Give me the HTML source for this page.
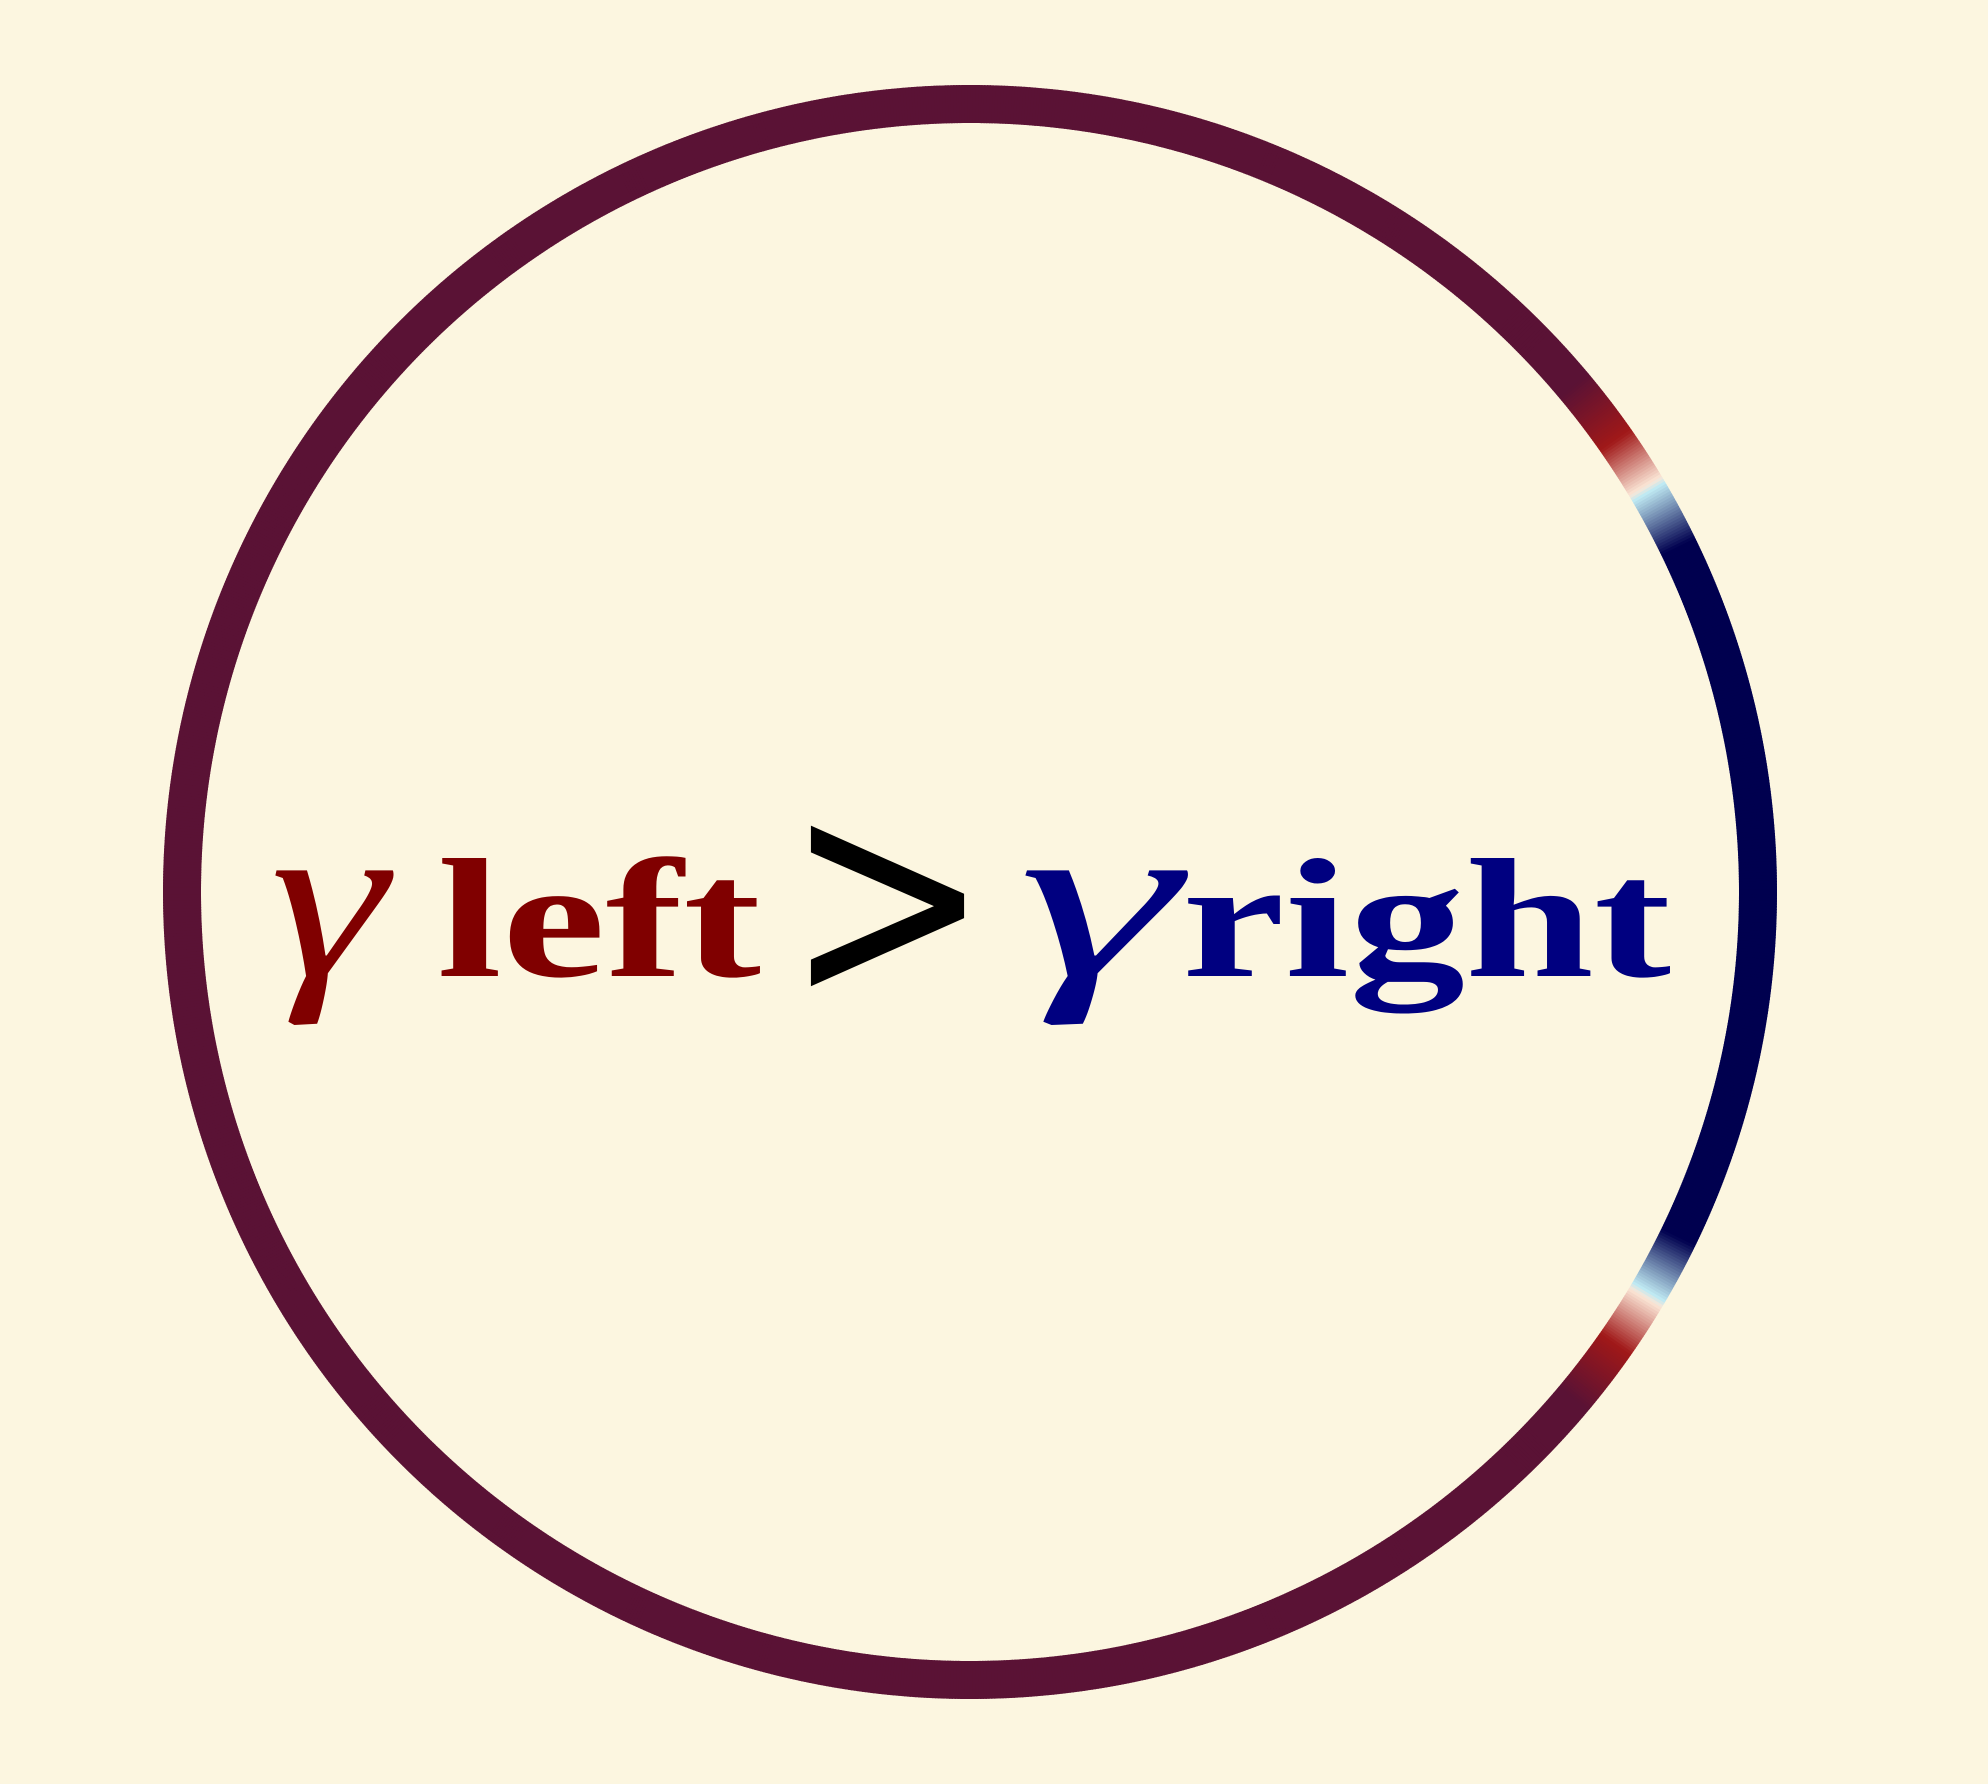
<!DOCTYPE html>
<html><head><meta charset="utf-8"><style>
html,body{margin:0;padding:0;background:#fcf6e0;}
svg{display:block}
</style></head><body>
<svg id="chart" width="1988" height="1784" viewBox="0 0 1988 1784" xmlns="http://www.w3.org/2000/svg">
<rect width="1988" height="1784" fill="#fcf6e0"/>
<g id="ring"></g>
<g font-family="'Liberation Serif', 'DejaVu Serif', serif">
<text x="270" y="976" fill="#800000" font-style="italic" font-size="230" textLength="117" lengthAdjust="spacingAndGlyphs">γ</text>
<text x="437" y="976" fill="#800000" font-weight="bold" font-size="170" textLength="324" lengthAdjust="spacingAndGlyphs">left</text>
<text x="785" y="1000" fill="#000" font-family="'DejaVu Sans', sans-serif" font-size="300" textLength="205" lengthAdjust="spacingAndGlyphs">&gt;</text>
<text x="1018" y="976" fill="#000080" font-style="italic" font-size="230" textLength="161" lengthAdjust="spacingAndGlyphs">γ</text>
<text x="1182" y="976" fill="#000080" font-weight="bold" font-size="170" textLength="489" lengthAdjust="spacingAndGlyphs">right</text>
</g>
</svg>
<script>
const stopAngles = [-180, -40, -35, -31, -30.5, -26, 26, 30.5, 31, 35, 40, 180];
const stopColors = ['#5a1235','#5a1235','#a01818','#fbe6d6','#bfe9f2','#00004f','#00004f','#bfe9f2','#fbe6d6','#a01818','#5a1235','#5a1235'];
const cx = 970, cy = 892, r = 788, sw = 38;
function hex(c){return [1,3,5].map(i=>parseInt(c.substr(i,2),16));}
function colorAt(a){
  for(let i=0;i<stopAngles.length-1;i++){
    if(a>=stopAngles[i]&&a<=stopAngles[i+1]){
      const t=(a-stopAngles[i])/(stopAngles[i+1]-stopAngles[i]||1);
      const c1=hex(stopColors[i]),c2=hex(stopColors[i+1]);
      return 'rgb('+c1.map((v,k)=>Math.round(v+(c2[k]-v)*t)).join(',')+')';
    }
  }
  return stopColors[0];
}
const g=document.getElementById('ring');
const step=0.2;
for(let a=-180;a<180;a+=step){
  const a1=a*Math.PI/180,a2=(a+step+0.1)*Math.PI/180;
  const p=document.createElementNS('http://www.w3.org/2000/svg','path');
  p.setAttribute('d','M'+(cx+r*Math.cos(a1))+' '+(cy+r*Math.sin(a1))+' A'+r+' '+r+' 0 0 1 '+(cx+r*Math.cos(a2))+' '+(cy+r*Math.sin(a2)));
  p.setAttribute('stroke',colorAt(a+step/2));
  p.setAttribute('stroke-width',sw);
  p.setAttribute('fill','none');
  
  
  g.appendChild(p);
}
</script>
</body></html>
